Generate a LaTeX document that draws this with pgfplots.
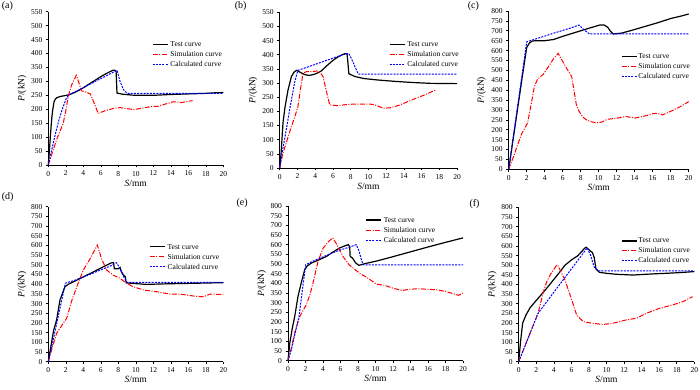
\documentclass[border=0pt]{standalone}
\usepackage{fontspec}
\setmainfont{Liberation Serif}
\usepackage{pgfplots}
\pgfplotsset{compat=1.18}

\definecolor{simc}{RGB}{255,0,0}
\definecolor{calcc}{RGB}{0,0,255}

\pgfplotsset{
  panel/.style={
    scale only axis, anchor=south west,
    axis x line=bottom, axis y line=left,
    axis line style={-, line width=0.7pt},
    xmin=0, xmax=20, ymin=0,
    xtick={0,2,...,20},
    tick align=outside, major tick length=2.5pt,
    tick style={black, line width=0.6pt},
    ticklabel style={font=\fontsize{7.5}{8}\selectfont},
    /pgf/number format/assume math mode=true,
    xlabel={\textit{S}/mm}, ylabel={\textit{P}/(kN)},
    label style={font=\fontsize{9.5}{10}\selectfont},
    xlabel style={at={(axis description cs:0.5,0)}, anchor=center, yshift=-18pt},
    ylabel style={at={(axis description cs:-0.15,0.5)}, anchor=center},
    legend cell align=left,
    legend style={draw=none, fill=none, inner sep=0pt, row sep=1.2pt,
      font=\fontsize{7.5}{8}\selectfont, anchor=north west,
      nodes={inner sep=1pt}},
    legend image code/.code={\draw[##1] (0pt,0pt) -- (15pt,0pt);},
    clip=false,
  },
  small/.style={ymax=550, ytick={0,50,...,550}},
  large/.style={ymax=800, ytick={0,50,...,800}},
}
\tikzset{
  testline/.style={color=black, line width=1.2pt},
  simline/.style={color=simc, line width=1pt,
    dash pattern=on 5pt off 1.5pt on 1pt off 1.5pt},
  calcline/.style={color=calcc, line width=1pt,
    dash pattern=on 2pt off 1.2pt},
  legtext/.style={anchor=west, inner sep=0pt,
    font=\fontsize{7.5}{8}\selectfont},
}

% drawn key for the three curves, first row at (#1,#2) in axis description units
\newcommand{\curvekey}[2]{%
  \draw[testline] (axis description cs:#1,#2) -- ++(15pt,0pt);
  \draw[simline] (axis description cs:#1,#2) ++(0pt,-10pt) -- ++(15pt,0pt);
  \draw[calcline] (axis description cs:#1,#2) ++(0pt,-20pt) -- ++(15pt,0pt);
  \path (axis description cs:#1,#2) ++(17.5pt,0pt) node[legtext] {Test curve}
    ++(0pt,-10pt) node[legtext] {Simulation curve}
    ++(0pt,-10pt) node[legtext] {Calculated curve};
}

\begin{document}
\begin{tikzpicture}
\path[use as bounding box] (0pt,0pt) rectangle (700pt,390pt);

% (a)
\begin{axis}[panel, small, at={(48.3pt,225pt)}, width=175pt, height=153.3pt]
\addplot[testline] coordinates {(0,0)(0.1,40)(0.25,110)(0.4,170)(0.5,196)(0.65,226)(0.8,236)(1,242)(1.4,246)(1.9,249)(2.4,252)(3,260)(3.5,268)(4,277)(4.5,287)(5,297)(5.5,307)(6,317)(6.5,326)(7,334)(7.4,340)(7.6,340)(7.75,335)(7.85,258)(8.5,254)(9.5,251)(10,250)(12,250)(14,253)(16,255)(18,257)(19,259)(20,260)};
\addplot[simline] coordinates {(0,0)(0.5,48)(1,95)(1.7,149)(2,195)(2.3,250)(2.7,290)(3.2,322)(3.5,295)(3.8,266)(4.3,262)(4.8,255)(5.2,225)(5.7,185)(6.5,195)(7.5,203)(8.2,206)(9,202)(9.8,199)(10.8,204)(11.8,210)(12.5,210)(13.3,218)(14.3,227)(15.2,224)(16.5,231)};
\addplot[calcline] coordinates {(0,0)(0.4,55)(0.8,110)(1.2,160)(1.6,200)(2.0,235)(2.3,250)(3,262)(4,277)(5,294)(6,310)(7,326)(7.85,340)(8.2,300)(8.6,270)(9,257)(10,257)(20,257)};
\curvekey{0.597}{0.787}
\end{axis}

% (b)
\begin{axis}[panel, small, at={(279.7pt,222pt)}, width=177.3pt, height=155.7pt]
\addplot[testline] coordinates {(0,0)(0.15,50)(0.37,159)(0.6,215)(0.94,276)(1.32,323)(1.6,338)(1.88,345)(2.2,340)(2.8,330)(3.3,327)(3.8,330)(4.3,336)(4.7,343)(5.2,358)(6,380)(6.6,393)(7.33,404)(7.6,402)(7.7,370)(7.8,333)(8.5,323)(9.5,316)(11,311)(13,306)(15,302)(17,299)(20,298)};
\addplot[simline] coordinates {(0,0)(0.37,53)(0.8,95)(1.32,147)(1.7,180)(2.06,218)(2.35,280)(2.63,335)(3,340)(3.6,340)(4.2,343)(4.6,335)(4.88,324)(5.2,280)(5.64,223)(6.5,220)(7.5,224)(8.5,226)(9.5,226)(10.5,225)(11,220)(11.7,211)(12.5,213)(13.5,222)(14.5,235)(15.5,248)(16.5,260)(17.6,276)};
\addplot[calcline] coordinates {(0,0)(0.25,50)(0.6,110)(1.2,220)(1.7,305)(2.05,345)(3,355)(4,366)(5,377)(6,388)(7,399)(7.8,405)(8.3,372)(8.85,332)(20,332)};
\curvekey{0.62}{0.794}
\end{axis}

% (c)
\begin{axis}[panel, large, at={(508.7pt,220.7pt)}, width=180pt, height=158.3pt,
  legend style={at={(axis description cs:0.624,0.739)}}]
\addplot[testline] coordinates {(0,0)(0.5,155)(1,310)(1.5,465)(2,616)(2.3,638)(2.6,648)(3,650)(4,650)(5,656)(6,672)(7,686)(8,700)(9,714)(9.6,722)(10.1,729)(10.6,729)(11,718)(11.3,698)(11.6,684)(12.5,688)(13.5,700)(15,720)(16.5,740)(18,762)(19.2,775)(20,785)};
\addlegendentry{Test curve}
\addplot[simline] coordinates {(0,0)(0.5,60)(1,125)(1.44,180)(2.1,235)(2.5,330)(2.85,418)(3.2,455)(3.84,480)(4.5,525)(5,560)(5.5,586)(6,545)(6.44,510)(7,468)(7.25,400)(7.5,330)(7.73,300)(8.2,265)(8.67,249)(9.2,240)(9.8,235)(10.3,238)(11,253)(12,258)(13,267)(14,259)(15,268)(16,281)(16.5,283)(17.1,275)(18,293)(19,315)(20,342)};
\addlegendentry{Simulation curve}
\addplot[calcline] coordinates {(0,0)(2,644)(3,659)(4,673)(5,688)(6,702)(7,716)(7.8,729)(8.3,708)(8.96,684)(20,684)};
\addlegendentry{Calculated curve}
\end{axis}

% (d)
\begin{axis}[panel, large, at={(48.3pt,28.3pt)}, width=175pt, height=155pt]
\addplot[testline] coordinates {(0,0)(0.3,80)(0.6,160)(0.95,215)(1.33,318)(1.6,350)(1.9,387)(2.3,400)(3,415)(4,438)(5,460)(5.9,481)(6.6,497)(7.2,510)(7.45,511)(7.55,480)(8,480)(8.2,487)(8.35,465)(8.6,447)(8.8,438)(8.9,407)(9.7,404)(11.2,399)(13.5,402)(15.8,404)(18,406)(20,408)};
\addplot[simline] coordinates {(0,0)(0.5,80)(0.95,146)(1.7,198)(2.1,224)(2.7,318)(3.4,404)(4,473)(4.8,533)(5.6,602)(6.1,530)(6.67,473)(7.4,447)(8.2,430)(9,404)(9.7,387)(10.9,370)(12.4,361)(13.9,349)(15,349)(16.6,339)(17.7,335)(18.5,349)(20,347)};
\addplot[calcline] coordinates {(0,0)(0.5,100)(1,205)(1.5,310)(1.95,405)(3,420)(4,437)(5,455)(6,474)(7,492)(7.8,511)(8.2,480)(8.6,440)(9,410)(20,410)};
\curvekey{0.581}{0.742}
\end{axis}

% (e)
\begin{axis}[panel, large, at={(288pt,29.3pt)}, width=175pt, height=154.7pt]
\addplot[testline] coordinates {(0,0)(0.2,90)(0.5,170)(0.77,229)(1.14,332)(1.5,400)(1.9,470)(2.2,490)(2.67,505)(3.2,515)(4.39,539)(5,558)(5.9,583)(6.5,594)(6.9,600)(7.05,590)(7.1,540)(7.4,529)(7.7,507)(8.1,493)(8.8,502)(10.1,515)(12,538)(14,563)(16,588)(18,612)(20,635)};
\addplot[simline] coordinates {(0,0)(0.4,70)(0.8,150)(1.34,229)(2.1,290)(2.5,340)(2.86,402)(3.43,513)(4,581)(4.6,615)(5.1,635)(5.5,607)(6.3,538)(7,495)(8.2,452)(9,431)(10.1,396)(11,390)(12,375)(13,363)(14,370)(15,372)(16,369)(17,367)(18,358)(19,345)(19.5,338)(20,350)};
\addplot[calcline] coordinates {(0,0)(0.4,60)(0.8,140)(1.26,229)(1.6,350)(2.02,496)(3,518)(4,537)(5,556)(6,573)(7,587)(7.8,600)(8.1,570)(8.4,520)(8.6,495)(20,495)};
\curvekey{0.446}{0.909}
\end{axis}

% (f)
\begin{axis}[panel, large, at={(518.7pt,28.3pt)}, width=175.6pt, height=154.4pt,
  legend style={at={(axis description cs:0.583,0.81)}}]
\addplot[testline] coordinates {(0,0)(0.2,100)(0.45,200)(0.83,242)(1.3,280)(2.05,320)(3,370)(3.94,423)(4.6,460)(5.27,500)(6,527)(6.7,548)(7.2,572)(7.5,588)(7.7,593)(8,580)(8.4,565)(8.6,540)(8.8,480)(9.2,463)(10,458)(11.1,453)(13,449)(15.3,455)(16.8,458)(18.5,462)(20,467)};
\addlegendentry{Test curve}
\addplot[simline] coordinates {(0,0)(1,115)(2.2,250)(2.8,360)(3.19,414)(3.57,449)(4.33,501)(4.5,495)(5.27,423)(6.04,320)(6.6,242)(7.36,207)(8.4,199)(9.6,193)(10.7,199)(12.2,216)(13.4,225)(14.5,250)(16,276)(17.5,294)(18.7,311)(19.8,337)};
\addlegendentry{Simulation curve}
\addplot[calcline] coordinates {(0,0)(2.2,250)(3,299)(4,360)(5,420)(6,481)(7,541)(7.8,590)(8.2,550)(8.6,490)(9.07,471)(20,471)};
\addlegendentry{Calculated curve}
\end{axis}

% panel letters
\begin{scope}[every node/.style={anchor=west, inner sep=0pt, font=\fontsize{10}{11}\selectfont}]
\node at (1.7pt,384pt) {(a)};
\node at (234.7pt,384pt) {(b)};
\node at (467.7pt,384pt) {(c)};
\node at (1.7pt,193.3pt) {(d)};
\node at (236.3pt,186.7pt) {(e)};
\node at (469.3pt,186pt) {(f)};
\end{scope}
\end{tikzpicture}
\end{document}
